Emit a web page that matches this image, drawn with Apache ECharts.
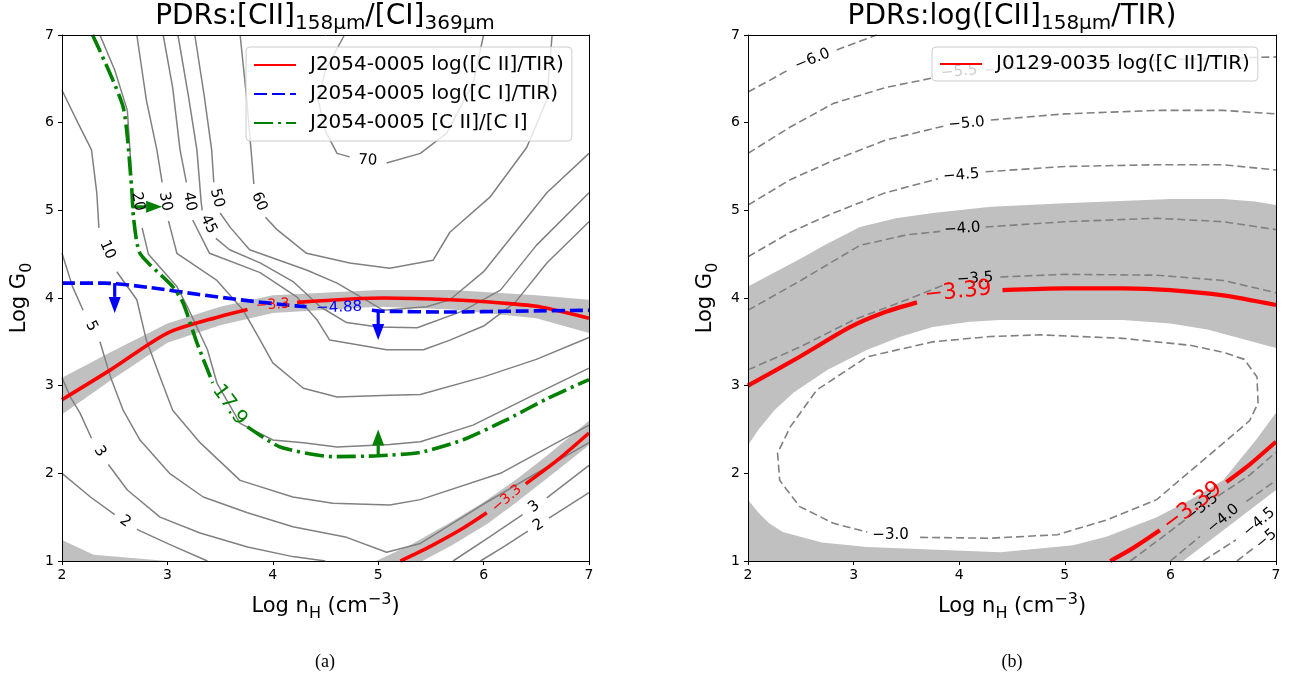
<!DOCTYPE html>
<html>
<head>
<meta charset="utf-8">
<title>PDR diagnostics</title>
<script src="https://cdn.jsdelivr.net/npm/echarts@6.0.0/dist/echarts.min.js"></script>
<style>
html, body { margin: 0; padding: 0; background: #ffffff; }
#chart { width: 1292px; height: 682px; }
</style>
</head>
<body>
<div id="chart"></div>
<script>
// ---------------- axes ----------------
const X_TICKS = [2, 3, 4, 5, 6, 7];      // Log n_H (cm^-3)
const Y_TICKS = [1, 2, 3, 4, 5, 6, 7];   // Log G0

// ---------------- panel (a): [CII]158/[CI]369 model grid ----------------
// points are [Log n_H, Log G0]; null breaks a path where its inline label sits
const ratio2a = [[2,2.0],[2.27,1.73],[2.5,1.53],null,[2.71,1.36],[3.02,1.19],[3.38,1.0]];
const ratio2b = [[5.97,1.0],[6.2,1.17],[6.42,1.34],null,[6.62,1.49],[7,1.78]];
const ratio3a = [[2,3.09],[2.08,2.87],[2.17,2.69],[2.28,2.4],null,[2.44,2.1],[2.62,1.81],[2.93,1.50],[3.31,1.32],[3.76,1.16],[4.19,1.05],[4.5,1.0]];
const ratio3b = [[5.71,1.0],[6.05,1.27],[6.37,1.53],null,[6.6,1.72],[7,2.09]];
const ratio5  = [[2,4.51],[2.1,4.13],[2.2,3.86],null,[2.36,3.5],[2.46,3.10],[2.58,2.72],[2.74,2.38],[3.02,2.0],[3.34,1.73],[3.76,1.55],[4.19,1.39],[4.70,1.27],[5.08,1.10],[5.40,1.20],[6.0,1.65],[7,2.35]];
const ratio10 = [[2,6.37],[2.15,6.0],[2.28,5.69],[2.33,5.2],[2.35,4.8],null,[2.52,4.3],[2.71,3.98],[2.8,3.52],[2.93,3.10],[3.05,2.72],[3.31,2.35],[3.69,1.92],[4.19,1.73],[4.57,1.66],[5.11,1.64],[5.40,1.70],[6.16,2.0],[7,2.55]];
const ratio20 = [[2.36,7],[2.5,6.6],[2.62,6.14],[2.66,5.4],null,[2.76,4.8],[2.82,4.5],[3.09,4.13],[3.19,3.9],[3.38,3.41],[3.47,3.03],[3.69,2.57],[4.0,2.38],[4.29,2.35],[4.61,2.30],[5.11,2.33],[5.40,2.36],[5.9,2.55],[6.4,2.85],[7,3.2]];
const ratio30 = [[2.71,7],[2.80,6.26],[2.90,5.69],[2.95,5.32],null,[3.01,4.88],[3.09,4.51],[3.47,4.2],[3.72,3.86],[3.88,3.52],[4.0,3.26],[4.29,2.97],[4.61,2.87],[5.11,2.89],[5.4,2.9],[6.0,3.1],[6.5,3.3],[7,3.55]];
const ratio40 = [[2.96,7],[3.05,6.4],[3.12,5.69],[3.18,5.32],null,[3.24,4.89],[3.40,4.51],[3.88,4.29],[4.23,4.01],[4.42,3.75],[4.54,3.52],[5.08,3.41],[5.43,3.41],[5.68,3.52],[6.0,3.68],[6.3,3.95],[6.6,4.4],[7,4.87]];
const ratio45 = [[3.10,7],[3.2,6.3],[3.28,5.69],[3.32,5.1],[3.33,5.0],null,[3.46,4.68],[3.59,4.55],[3.88,4.40],[4.2,4.18],[4.45,3.9],[4.7,3.72],[5.0,3.67],[5.37,3.66],[5.8,3.85],[6.16,4.09],[6.5,4.6],[7,5.2]];
const ratio50 = [[3.26,7],[3.35,6.3],[3.42,5.69],[3.44,5.32],null,[3.5,4.97],[3.6,4.8],[3.78,4.55],[4.32,4.32],[4.61,4.17],[5.05,3.86],[5.46,3.90],[5.68,3.98],[6.0,4.3],[6.3,4.75],[6.6,5.2],[7,5.65]];
const ratio60 = [[3.69,7],[3.75,6.3],[3.8,5.6],[3.82,5.3],null,[3.93,4.92],[4.04,4.78],[4.32,4.51],[4.73,4.40],[5.11,4.34],[5.52,4.43],[5.68,4.75],[6.06,5.15],[6.41,5.72],[6.6,6.26],[6.65,7]];
const ratio70 = [[4.68,7],[4.5,6.6],[4.43,6.26],[4.5,5.9],[4.61,5.65],[4.73,5.61],null,[5.08,5.54],[5.40,5.65],[5.65,5.88],[5.90,6.45],[6.0,7.0]];

const ratioLabels = [
  { text: '2',  at: [2.6, 1.45],  rot: -37 },
  { text: '2',  at: [6.52, 1.41], rot: 32 },
  { text: '3',  at: [2.36, 2.25], rot: -58 },
  { text: '3',  at: [6.48, 1.62], rot: 38 },
  { text: '5',  at: [2.28, 3.68], rot: -62 },
  { text: '10', at: [2.43, 4.55], rot: -66 },
  { text: '20', at: [2.72, 5.1],  rot: -79 },
  { text: '30', at: [2.98, 5.1],  rot: -80 },
  { text: '40', at: [3.21, 5.1],  rot: -80 },
  { text: '45', at: [3.39, 4.84], rot: -64 },
  { text: '50', at: [3.47, 5.14], rot: -76 },
  { text: '60', at: [3.87, 5.1],  rot: -68 },
  { text: '70', at: [4.9, 5.57],  rot: -3 }
];

// J2054-0005 observed values
const ciiTirA = [[2,2.84],[2.46,3.18],[3.0,3.6],[3.5,3.79],[3.76,3.87],null,[4.23,3.95],[5.05,4.0],[5.68,3.98],[6.2,3.94],[6.53,3.9],[7,3.77]];
const ciiTirB = [[5.21,1.0],[5.5,1.17],[5.8,1.37],[6.03,1.55],null,[6.4,1.88],[6.7,2.15],[7,2.46]];
const ciTir   = [[2,4.17],[2.4,4.17],[2.83,4.12],[3.3,4.04],[3.69,3.98],[4.13,3.92],[4.32,3.90],null,[4.94,3.86],[5.02,3.85],[5.68,3.84],[6.3,3.85],[7,3.86]];
const ciiCi   = [[2.29,7],[2.58,6.18],[2.66,5.27],[2.68,4.9],[2.74,4.51],[3.05,4.13],[3.15,3.94],[3.28,3.49],[3.43,3.03],null,[3.76,2.53],[4.07,2.30],[4.57,2.19],[5.0,2.2],[5.40,2.24],[5.8,2.38],[6.2,2.6],[6.6,2.85],[7,3.07]];

// uncertainty band of log([C II]/TIR)
const ciiTirBandTop    = [[2,3.09],[2.46,3.38],[3.0,3.71],[3.5,3.9],[4.0,4.03],[5.0,4.09],[5.7,4.09],[6.5,4.03],[7,3.98]];
const ciiTirBandBottom = [[2,2.67],[2.46,3.06],[3.0,3.49],[3.5,3.69],[4.0,3.83],[5.0,3.9],[5.7,3.87],[6.5,3.77],[7,3.6]];
const ciiTirBandLowTop    = [[4.98,1.0],[5.3,1.18],[5.7,1.45],[6.0,1.67],[6.3,1.92],[6.6,2.2],[7,2.6]];
const ciiTirBandLowBottom = [[5.42,1.0],[5.7,1.18],[6.03,1.42],[6.3,1.66],[6.6,1.94],[7,2.32]];
const ciiTirBandCorner    = [[2,1.0],[2,1.24],[2.3,1.07],[3.0,1.0]];

const obsLabelsA = [
  { text: '\u22123.3',  at: [4.0, 3.92],  rot: 4,   color: '#ff0000', size: 14 },
  { text: '\u22123.3',  at: [6.22, 1.71], rot: 40,  color: '#ff0000', size: 14 },
  { text: '\u22124.88', at: [4.63, 3.89], rot: 2,   color: '#0000ff', size: 15 },
  { text: '17.9',       at: [3.59, 2.78], rot: -54, color: '#008000', size: 20 }
];

// limit arrows: [from, to]
const ciArrows   = [[[2.5, 4.17], [2.5, 3.83]], [[5.0, 3.85], [5.0, 3.52]]];
const ratioArrows = [[[2.66, 5.04], [2.95, 5.04]], [[5.0, 2.2], [5.0, 2.5]]];

// ---------------- panel (b): log([CII]158/TIR) model grid ----------------
const tir60 = [[2,6.35],[2.2,6.48],[2.38,6.6],null,[2.84,6.83],[3.22,7.0]];
const tir55 = [[2,5.65],[2.4,5.95],[2.81,6.22],[3.3,6.4],[3.75,6.51],null,[4.25,6.6],[5,6.66],[6,6.72],[7,6.75]];
const tir50 = [[2,5.06],[2.4,5.35],[2.81,5.57],[3.3,5.8],[3.85,5.96],null,[4.3,6.03],[5.0,6.1],[5.87,6.14],[6.5,6.14],[7,6.1]];
const tir45 = [[2,4.47],[2.4,4.75],[2.81,4.97],[3.3,5.2],[3.8,5.36],null,[4.25,5.44],[5.0,5.5],[5.87,5.52],[6.5,5.52],[7,5.46]];
const tir40 = [[2,3.86],[2.5,4.2],[3.06,4.6],[3.5,4.72],[3.82,4.76],null,[4.25,4.81],[5,4.87],[5.87,4.91],[6.5,4.87],[7,4.78]];
const tir35 = [[2,3.18],[2.49,3.44],[3.0,3.75],[3.44,3.95],[3.9,4.17],null,[4.39,4.24],[5.0,4.27],[5.87,4.26],[6.5,4.2],[7,4.06]];
const tir30 = [[3.63,1.27],[4.29,1.26],[4.93,1.30],[5.40,1.47],[5.87,1.70],[6.35,2.19],[6.75,2.6],[6.83,2.8],[6.82,3.1],[6.7,3.3],[6.5,3.38],[6.19,3.46],[5.55,3.54],[4.77,3.58],[4.29,3.56],[3.75,3.5],[3.13,3.33],[2.65,2.95],[2.40,2.53],[2.28,2.23],[2.30,1.92],[2.49,1.62],[2.81,1.43],[3.13,1.33]];
const tir35Low = [[5.62,1.0],[5.9,1.25],[6.15,1.48],null,[6.45,1.74],[6.75,1.98],[7,2.24]];
const tir40Low = [[6.0,1.0],[6.28,1.28],null,[6.72,1.68],[7,1.92]];
const tir45Low = [[6.31,1.0],[6.62,1.24]];
const tir50Low = [[6.63,1.0],[6.78,1.14]];

const tirLabels = [
  { text: '\u22126.0', at: [2.61, 6.72], rot: 22 },
  { text: '\u22125.5', at: [4.0, 6.58],  rot: 5 },
  { text: '\u22125.0', at: [4.07, 5.99], rot: 5 },
  { text: '\u22124.5', at: [4.02, 5.40], rot: 5 },
  { text: '\u22124.0', at: [4.03, 4.79], rot: 4 },
  { text: '\u22123.5', at: [4.15, 4.22], rot: 4 },
  { text: '\u22123.0', at: [3.35, 1.30], rot: 0 },
  { text: '\u22123.5', at: [6.3, 1.61],  rot: 38 },
  { text: '\u22124.0', at: [6.5, 1.48],  rot: 40 },
  { text: '\u22124.5', at: [6.84, 1.44], rot: 40 },
  { text: '\u22125.0', at: [6.96, 1.3],  rot: 40 }
];

// J0129-0035 observed value
const ciiTirJ0129A = [[2,3.0],[2.49,3.33],[2.97,3.67],[3.3,3.84],[3.6,3.95],null,[4.41,4.09],[5.0,4.11],[5.55,4.11],[6.0,4.09],[6.5,4.03],[7,3.92]];
const ciiTirJ0129B = [[5.43,1.0],[5.65,1.15],[5.9,1.35],null,[6.53,1.9],[6.75,2.1],[7,2.36]];
const obsLabelsB = [
  { text: '\u22123.39', at: [3.99, 4.07], rot: 6,  color: '#ff0000', size: 22 },
  { text: '\u22123.39', at: [6.21, 1.62], rot: 37, color: '#ff0000', size: 22 }
];

// shaded range allowed by the J0129-0035 measurement
const tirShadeTop       = [[2,4.13],[2.25,4.29],[2.5,4.45],[2.75,4.62],[3.06,4.81],[3.4,4.91],[3.75,4.97],[4.3,5.04],[5.0,5.08],[6.0,5.13],[6.5,5.13],[6.8,5.1],[7,5.06]];
const tirGapTop         = [[2,2.32],[2.1,2.5],[2.25,2.72],[2.43,2.92],[2.75,3.18],[3.13,3.41],[3.45,3.56],[3.75,3.67],[4.1,3.73],[4.39,3.75],[5.55,3.75],[6.0,3.71],[6.35,3.64],[7,3.43]];
const tirGapBottom      = [[2,1.70],[2.1,1.55],[2.2,1.43],[2.33,1.33],[2.7,1.21],[3.13,1.16],[4.39,1.10],[5.08,1.18],[5.4,1.28],[5.87,1.50],[6.19,1.70],[6.5,1.92],[6.81,2.38],[7,2.69]];
const tirShadeLowerEdge = [[7,1.81],[6.12,1.0]];

// ---------------- drawing ----------------
const FONT = 'DejaVu Sans';
const GREY = '#808080';
const SHADE = '#c0c0c0';
const NAME_CII_A = 'J2054-0005 log([C II]/TIR)';
const NAME_CI_A = 'J2054-0005 log([C I]/TIR)';
const NAME_RATIO_A = 'J2054-0005 [C II]/[C I]';
const NAME_CII_B = 'J0129-0035 log([C II]/TIR)';

function splitPath(path) {
  const segs = [];
  let cur = [];
  path.forEach(p => {
    if (p === null) { if (cur.length) segs.push(cur); cur = []; }
    else cur.push(p);
  });
  if (cur.length) segs.push(cur);
  return segs;
}

function pathSeries(g, path, st, name) {
  return splitPath(path).map((seg, i) => {
    const s = {
      type: 'line', xAxisIndex: 2 * g, yAxisIndex: 2 * g, data: seg,
      symbol: 'none', showSymbol: false, smooth: st.smooth || false,
      z: st.z || 2, silent: true, animation: false, clip: true,
      lineStyle: { color: st.color, width: st.width, type: st.type || 'solid', cap: st.cap || 'butt' },
      itemStyle: { color: st.color }
    };
    if (i === 0 && name) s.name = name;
    return s;
  });
}

function polySeries(g, pts, color, z) {
  return {
    type: 'custom', xAxisIndex: 2 * g, yAxisIndex: 2 * g, data: [pts[0]],
    silent: true, animation: false, clip: true, z: z,
    renderItem: (params, api) => ({
      type: 'polygon',
      shape: { points: pts.map(p => api.coord(p)) },
      style: { fill: color }
    })
  };
}

function labelSeries(g, labels, z, defColor, defSize) {
  return {
    type: 'custom', xAxisIndex: 2 * g, yAxisIndex: 2 * g,
    data: labels.map(l => l.at), silent: true, animation: false, clip: true, z: z,
    renderItem: (params, api) => {
      const l = labels[params.dataIndex];
      const p = api.coord(l.at);
      return {
        type: 'text', x: p[0], y: p[1], rotation: (l.rot || 0) * Math.PI / 180,
        style: {
          text: l.text, fill: l.color || defColor,
          font: (l.size || defSize) + 'px "' + FONT + '"',
          align: 'center', verticalAlign: 'middle'
        }
      };
    }
  };
}

function arrowSeries(g, arrows, color, z) {
  return {
    type: 'custom', xAxisIndex: 2 * g, yAxisIndex: 2 * g,
    data: arrows.map(a => a[0]), silent: true, animation: false, z: z,
    renderItem: (params, api) => {
      const a = arrows[params.dataIndex];
      const p1 = api.coord(a[0]), p2 = api.coord(a[1]);
      const dx = p2[0] - p1[0], dy = p2[1] - p1[1];
      const len = Math.sqrt(dx * dx + dy * dy);
      const ux = dx / len, uy = dy / len, nx = -uy, ny = ux;
      const head = 16, half = 6;
      const bx = p2[0] - ux * head, by = p2[1] - uy * head;
      return {
        type: 'group',
        children: [
          { type: 'line', shape: { x1: p1[0], y1: p1[1], x2: bx, y2: by },
            style: { stroke: color, lineWidth: 3.2 } },
          { type: 'polygon',
            shape: { points: [[p2[0], p2[1]], [bx + nx * half, by + ny * half], [bx - nx * half, by - ny * half]] },
            style: { fill: color } }
        ]
      };
    }
  };
}

const greyLine = { color: GREY, width: 1.5, z: 2 };
const greyDash = { color: GREY, width: 1.6, z: 2, type: [8, 4] };
const redLine = { color: '#ff0000', width: 3.6, z: 4, smooth: 0.25 };
const redLineB = { color: '#ff0000', width: 4.2, z: 4, smooth: 0.25 };
const blueLine = { color: '#0000ff', width: 3.6, z: 4, type: [13, 5], smooth: 0.25 };
const greenLine = { color: '#008000', width: 3.6, z: 4, type: [19, 5, 3, 5], smooth: 0.2 };

let series = [];
// panel (a)
series.push(polySeries(0, ciiTirBandTop.concat(ciiTirBandBottom.slice().reverse()), SHADE, 1));
series.push(polySeries(0, ciiTirBandLowTop.concat(ciiTirBandLowBottom.slice().reverse()), SHADE, 1));
series.push(polySeries(0, ciiTirBandCorner, SHADE, 1));
[ratio2a, ratio2b, ratio3a, ratio3b, ratio5, ratio10, ratio20, ratio30, ratio40, ratio45, ratio50, ratio60, ratio70]
  .forEach(c => { series = series.concat(pathSeries(0, c, greyLine)); });
series = series.concat(pathSeries(0, ciiTirA, redLine, NAME_CII_A));
series = series.concat(pathSeries(0, ciiTirB, redLine));
series = series.concat(pathSeries(0, ciTir, blueLine, NAME_CI_A));
series = series.concat(pathSeries(0, ciiCi, greenLine, NAME_RATIO_A));
series.push(arrowSeries(0, ciArrows, '#0000ff', 5));
series.push(arrowSeries(0, ratioArrows, '#008000', 5));
series.push(labelSeries(0, ratioLabels, 6, '#000', 15));
series.push(labelSeries(0, obsLabelsA, 6, '#000', 14));

// panel (b)
series.push(polySeries(1, tirShadeTop.concat(tirGapTop.slice().reverse()), SHADE, 1));
series.push(polySeries(1, [[2, 1.0]].concat(tirGapBottom, tirShadeLowerEdge), SHADE, 1));
[tir60, tir55, tir50, tir45, tir40, tir35, tir30, tir35Low, tir40Low, tir45Low, tir50Low]
  .forEach(c => { series = series.concat(pathSeries(1, c, greyDash)); });
series = series.concat(pathSeries(1, ciiTirJ0129A, redLineB, NAME_CII_B));
series = series.concat(pathSeries(1, ciiTirJ0129B, redLineB));
series.push(labelSeries(1, tirLabels, 6, '#000', 15));
series.push(labelSeries(1, obsLabelsB, 7, '#ff0000', 22));

const nameRich = {
  n: { fontFamily: FONT, fontSize: 21, lineHeight: 30, color: '#000' },
  s: { fontFamily: FONT, fontSize: 16, lineHeight: 12, color: '#000', verticalAlign: 'bottom' },
  p: { fontFamily: FONT, fontSize: 16, lineHeight: 16, color: '#000', verticalAlign: 'top' }
};

function axesFor(g) {
  const base = { gridIndex: g, type: 'value', z: 10, splitLine: { show: false },
                 axisLine: { show: true, onZero: false, lineStyle: { color: '#000', width: 1 } } };
  const xb = Object.assign({}, base, {
    min: X_TICKS[0], max: X_TICKS[X_TICKS.length - 1], interval: X_TICKS[1] - X_TICKS[0], position: 'bottom',
    axisTick: { show: true, length: 4, lineStyle: { color: '#000' } },
    axisLabel: { color: '#000', fontSize: 14, fontFamily: FONT, margin: 7 },
    name: '{n|Log n}{s|H}{n| (cm}{p|\u22123}{n|)}', nameLocation: 'middle', nameGap: 31,
    nameTextStyle: { rich: nameRich }
  });
  const xt = Object.assign({}, base, {
    min: X_TICKS[0], max: X_TICKS[X_TICKS.length - 1], position: 'top',
    axisTick: { show: false }, axisLabel: { show: false }
  });
  const yl = Object.assign({}, base, {
    min: Y_TICKS[0], max: Y_TICKS[Y_TICKS.length - 1], interval: Y_TICKS[1] - Y_TICKS[0], position: 'left',
    axisTick: { show: true, length: 4, lineStyle: { color: '#000' } },
    axisLabel: { color: '#000', fontSize: 14, fontFamily: FONT, margin: 8 },
    name: '{n|Log G}{s|0}', nameLocation: 'middle', nameGap: 27, nameRotate: 90,
    nameTextStyle: { rich: nameRich }
  });
  const yr = Object.assign({}, base, {
    min: Y_TICKS[0], max: Y_TICKS[Y_TICKS.length - 1], position: 'right',
    axisTick: { show: false }, axisLabel: { show: false }
  });
  return { x: [xb, xt], y: [yl, yr] };
}
const axA = axesFor(0), axB = axesFor(1);

const titleRich = {
  a: { fontFamily: FONT, fontSize: 28, fontWeight: 'normal', lineHeight: 34, color: '#000' },
  s: { fontFamily: FONT, fontSize: 20, fontWeight: 'normal', lineHeight: 12, color: '#000', verticalAlign: 'bottom' }
};

const legendBase = {
  orient: 'vertical', itemWidth: 42, itemHeight: 14, itemGap: 9,
  backgroundColor: 'rgba(255,255,255,0.8)', borderColor: '#cccccc', borderWidth: 1, borderRadius: 4,
  itemStyle: { opacity: 0 },
  textStyle: { fontFamily: FONT, fontSize: 20, color: '#000', padding: [0, 0, 0, 9] },
  selectedMode: false, z: 20
};

const option = {
  animation: false,
  backgroundColor: '#ffffff',
  textStyle: { fontFamily: FONT },
  title: [
    { text: '{a|PDRs:[CII]}{s|158\u03bcm}{a|/[CI]}{s|369\u03bcm}', left: 325, top: 0, textAlign: 'center', padding: 0,
      textStyle: { fontWeight: 'normal', rich: titleRich } },
    { text: '{a|PDRs:log([CII]}{s|158\u03bcm}{a|/TIR)}', left: 1012, top: 0, textAlign: 'center', padding: 0,
      textStyle: { fontWeight: 'normal', rich: titleRich } }
  ],
  legend: [
    Object.assign({}, legendBase, { data: [NAME_CII_A, NAME_CI_A, NAME_RATIO_A], left: 246, top: 47, padding: [8, 8, 8, 7] }),
    Object.assign({}, legendBase, { data: [NAME_CII_B], left: 932, top: 47, padding: [7, 8, 7, 7] })
  ],
  grid: [
    { left: 62, top: 35, width: 527, height: 526, outerBoundsMode: 'none', containLabel: false },
    { left: 748, top: 35, width: 528, height: 526, outerBoundsMode: 'none', containLabel: false }
  ],
  xAxis: axA.x.concat(axB.x),
  yAxis: axA.y.concat(axB.y),
  series: series,
  graphic: [
    { type: 'text', x: 325, y: 662, style: { text: '(a)', font: '18px "Liberation Serif"', fill: '#000', align: 'center', verticalAlign: 'middle' } },
    { type: 'text', x: 1012, y: 662, style: { text: '(b)', font: '18px "Liberation Serif"', fill: '#000', align: 'center', verticalAlign: 'middle' } }
  ]
};

const chart = echarts.init(document.getElementById('chart'), null, { renderer: 'canvas' });
chart.setOption(option);
</script>
</body>
</html>
